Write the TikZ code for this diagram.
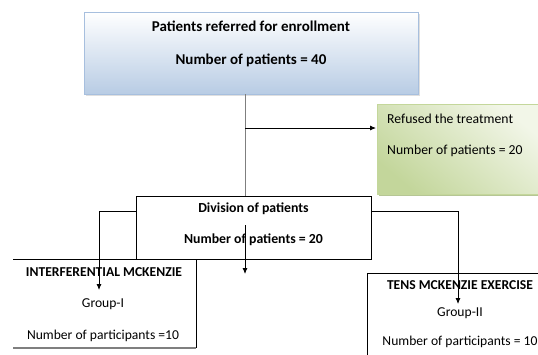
\documentclass[tikz,border=0pt]{standalone}
\usepackage{fontspec}
\setmainfont{Carlito}
\usetikzlibrary{arrows.meta}
\definecolor{topblue}{HTML}{B8CCE4}
\definecolor{topedge}{HTML}{A7BFDE}
\definecolor{greenD}{HTML}{C3D69B}
\definecolor{greenL}{HTML}{F2F6E8}
\definecolor{greenE}{HTML}{C4D79B}
\definecolor{linegray}{HTML}{7F7F7F}
\tikzset{
  conn/.style={draw=black, line width=0.8pt},
  arr/.style={conn, -{Latex[length=6pt,width=5pt]}},
  txt/.style={inner sep=0pt, anchor=center},
  plainbox/.style={draw=black, line width=0.8pt, fill=white},
}
\begin{document}
\begin{tikzpicture}[x=1pt,y=-1pt]
\useasboundingbox (0,0) rectangle (538,354);
\fill[white] (0,0) rectangle (538,354);
% top box
\fill[gray!25] (85.5,13.5) rectangle (419.5,95.5);
\shade[top color=white, bottom color=topblue, draw=topedge, line width=0.8pt] (84,12) rectangle (418,94);
\node[txt, font=\fontsize{15}{17}\selectfont\bfseries] (t1) at (251,26) {Patients referred for enrollment};
\node[txt, font=\fontsize{15}{17}\selectfont\bfseries] (t2) at (251,60) {Number of patients = 40};
\coordinate (topS) at (245,94);
% refused box
\fill[greenE!80!gray] (379,106) rectangle (540,196);
\shade[top color=greenL, bottom color=greenD, shading angle=-40, draw=greenE, line width=0.8pt] (377,104) rectangle (540,194);
\node[txt, anchor=west, font=\fontsize{13.7}{16}\selectfont] (r1) at (387,119) {Refused the treatment};
\node[txt, anchor=west, font=\fontsize{13.7}{16}\selectfont] (r2) at (387,151) {Number of patients = 20};
\coordinate (refW) at (376,128);
% division box
\node[plainbox, minimum width=235pt, minimum height=63pt, inner sep=0pt] (div) at (253.5,227.5) {};
\node[txt, font=\fontsize{13.8}{16}\selectfont\bfseries] (d1) at (253.5,209) {Division of patients};
\node[txt, font=\fontsize{13.8}{16}\selectfont\bfseries] (d2) at (253.5,240) {Number of patients = 20};
% left group box (no left edge)
\draw[line width=0.8pt] (13,259) -- (196,259) -- (196,348);
\draw[line width=1.2pt, linegray] (13,348) -- (196,348);
\node[txt, font=\fontsize{13.6}{16}\selectfont\bfseries] (g1a) at (104,272) {INTERFERENTIAL MCKENZIE};
\node[txt, font=\fontsize{13.6}{16}\selectfont] (g1b) at (103,304) {Group-I};
\node[txt, font=\fontsize{13.6}{16}\selectfont] (g1c) at (103,336) {Number of participants =10};
% right group box
\draw[line width=0.8pt] (545,273) -- (367,273) -- (367,360);
\node[txt, font=\fontsize{13.6}{16}\selectfont\bfseries] (g2a) at (460,285) {TENS MCKENZIE EXERCISE};
\node[txt, font=\fontsize{13.6}{16}\selectfont] (g2b) at (460,313) {Group-II};
\node[txt, font=\fontsize{13.6}{16}\selectfont] (g2c) at (460,342) {Number of participants = 10};
% connectors
\coordinate (brR) at (245,128);
\draw[conn, linegray, line width=1pt] (topS) -- (div.north -| topS);
\draw[arr] (brR) -- (refW);
\coordinate (lc) at (99,211);
\coordinate (lt) at (99,290);
\draw[arr] (div.west |- lc) -- (lc) -- (lt);
\coordinate (rc) at (458,211);
\coordinate (rt) at (458,304);
\draw[arr] (div.east |- rc) -- (rc) -- (rt);
\coordinate (ms) at (245,225);
\coordinate (me) at (245,274);
\draw[arr] (ms) -- (me);
\end{tikzpicture}
\end{document}
